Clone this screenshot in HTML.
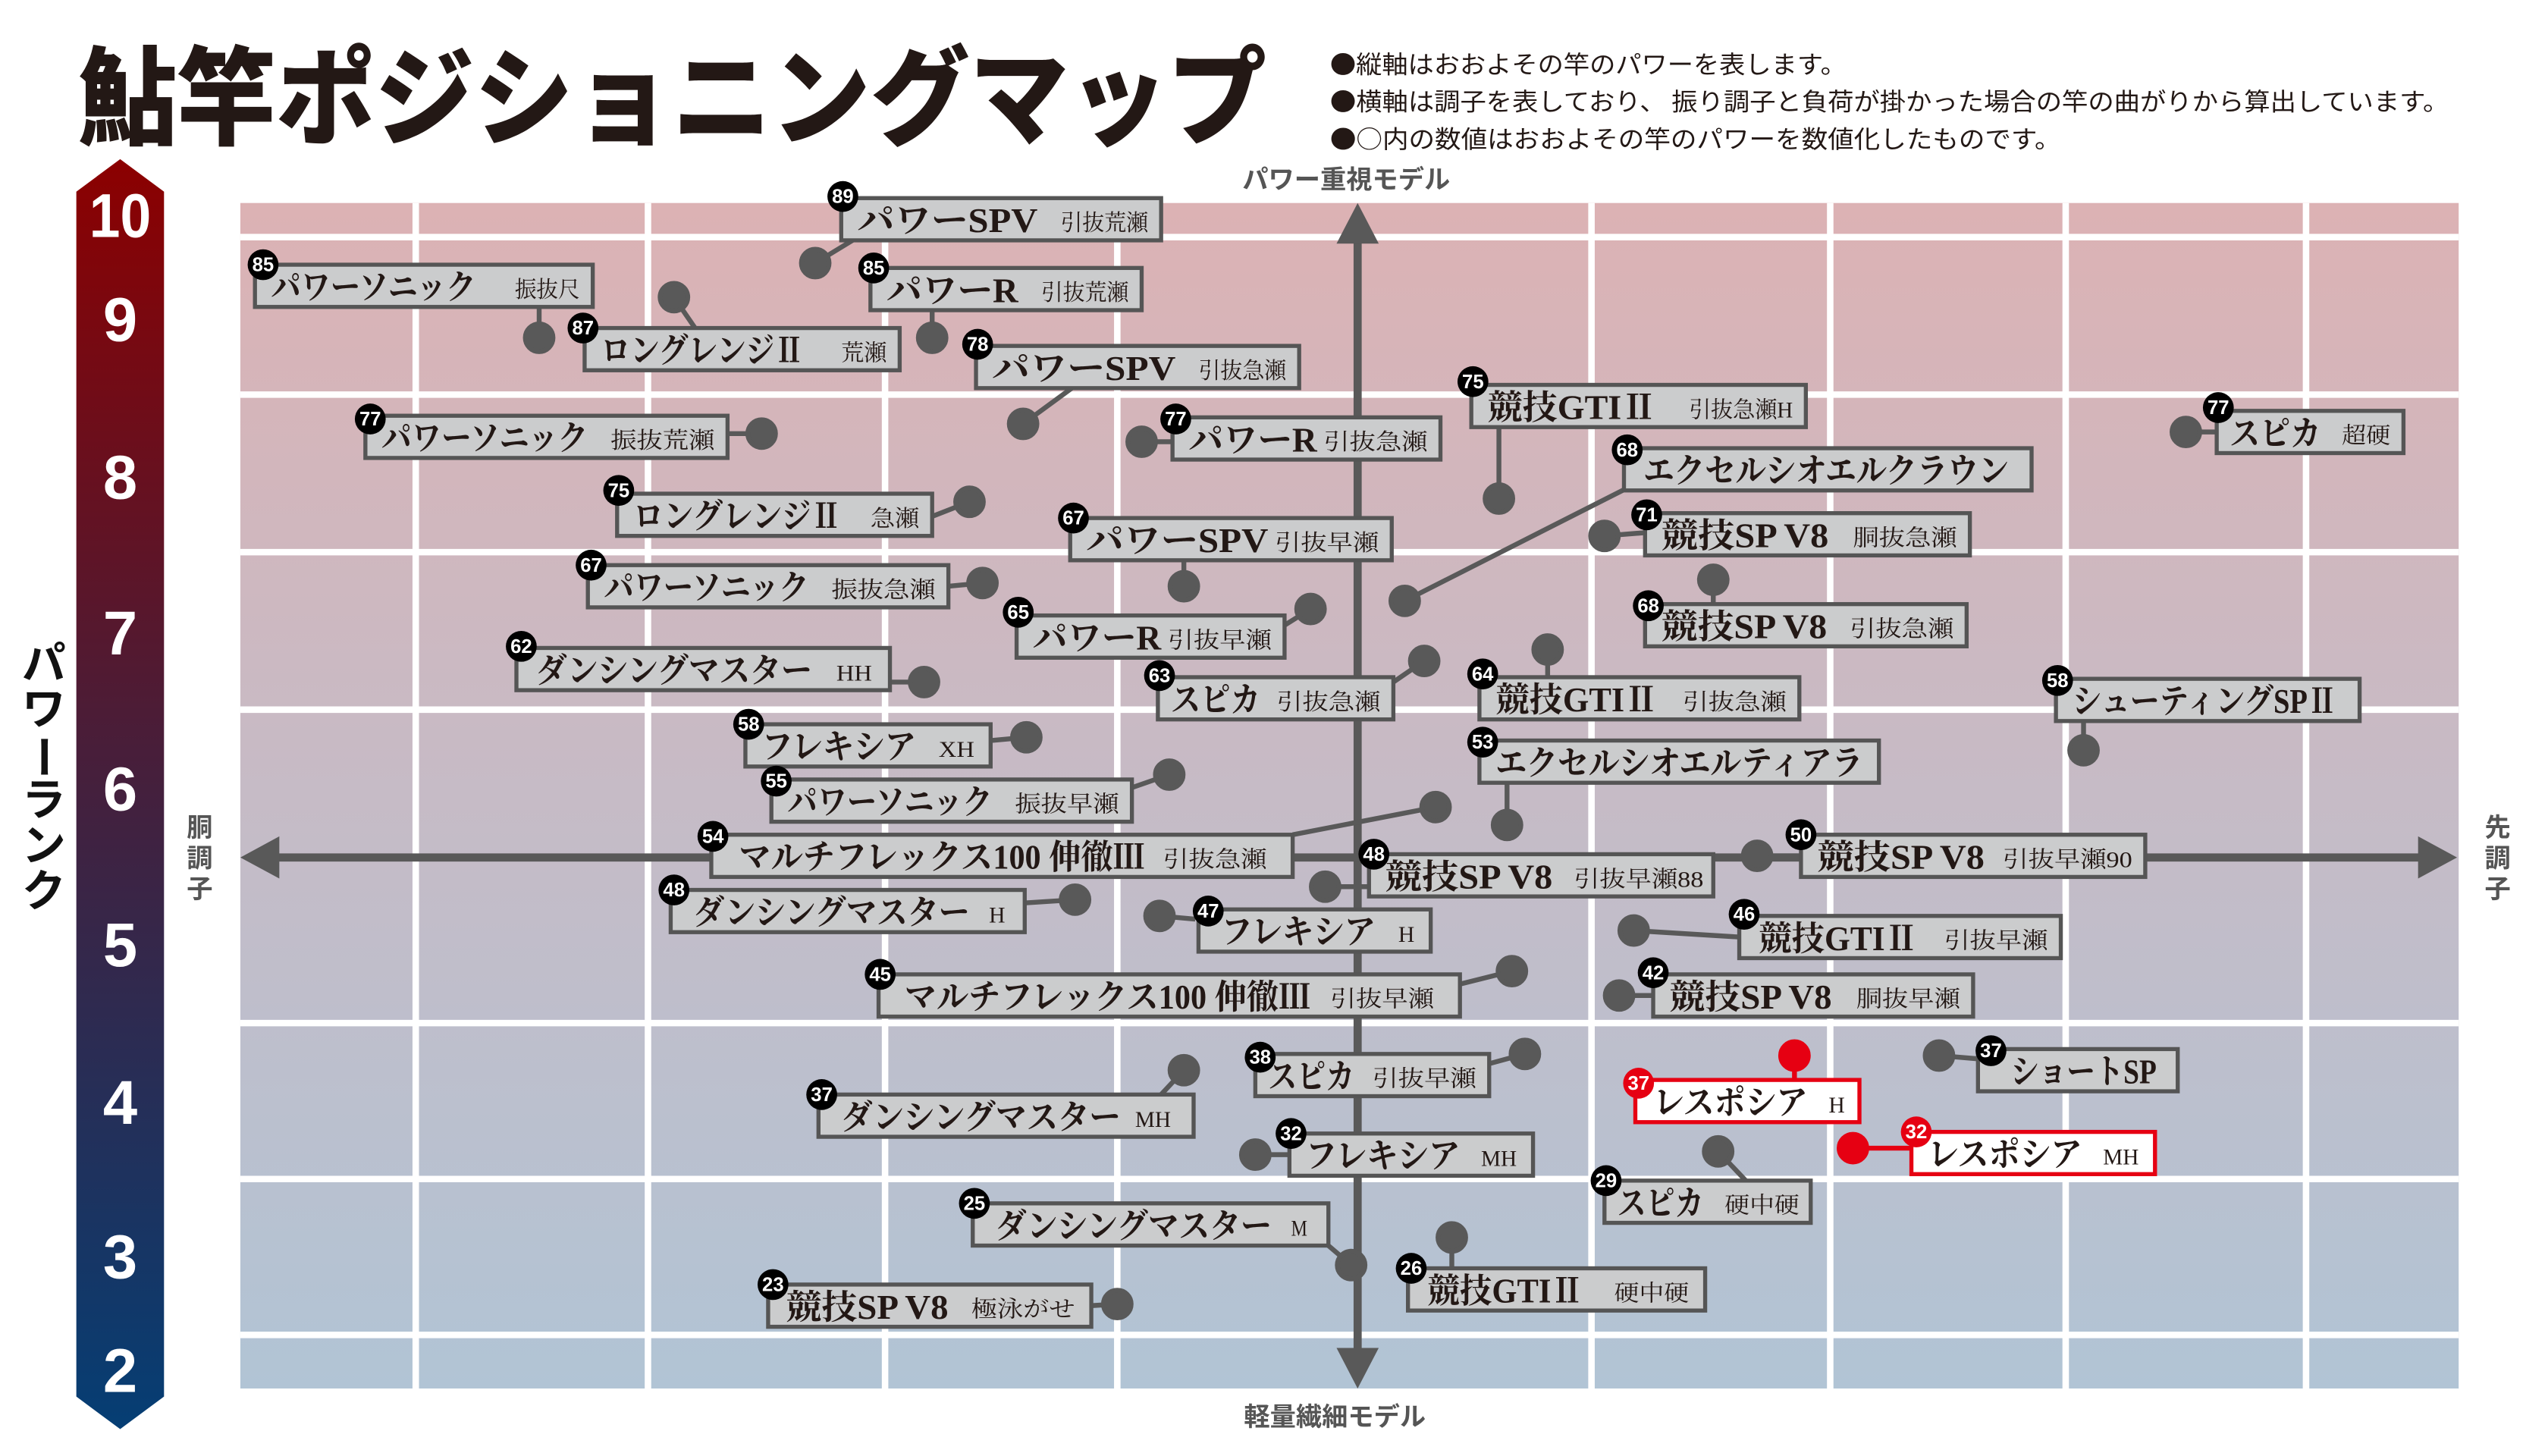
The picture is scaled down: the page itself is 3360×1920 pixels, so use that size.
<!DOCTYPE html>
<html><head><meta charset="utf-8"><style>
html,body{margin:0;padding:0;background:#fff;}
svg{display:block;}
.m{font-family:"Liberation Serif","Noto Serif CJK JP","Noto Serif CJK SC",serif;fill:#231815;font-size:21px;font-weight:bold;}
.s{font-family:"Liberation Serif","Noto Serif CJK JP","Noto Serif CJK SC",serif;fill:#231815;font-size:14px;}
.b{font-family:"Liberation Sans",sans-serif;font-weight:bold;fill:#fff;font-size:12px;}
</style></head><body>
<svg width="3360" height="1920" viewBox="0 0 1569 896.57" xmlns="http://www.w3.org/2000/svg">
<defs>
<linearGradient id="bg" x1="0" y1="0" x2="0" y2="1">
<stop offset="0" stop-color="#dcb2b4"/><stop offset="0.5" stop-color="#c6bbc6"/><stop offset="1" stop-color="#b1c4d5"/>
</linearGradient>
<linearGradient id="bar" x1="0" y1="0" x2="0" y2="1">
<stop offset="0" stop-color="#8c0000"/><stop offset="0.45" stop-color="#4a1d38"/><stop offset="1" stop-color="#053e74"/>
</linearGradient>
</defs>
<rect width="1569" height="896.57" fill="#fff"/>
<text x="48" y="84" textLength="732" lengthAdjust="spacingAndGlyphs" style="font-family:'Noto Sans CJK JP',sans-serif;font-weight:900;font-size:66px;fill:#231815">鮎竿ポジショニングマップ</text>
<g style="font-family:'Noto Sans CJK JP',sans-serif;font-size:15px;fill:#231815">
<text x="819" y="45" textLength="318" lengthAdjust="spacingAndGlyphs">●縦軸はおおよその竿のパワーを表します。</text>
<text x="819" y="68" textLength="689" lengthAdjust="spacingAndGlyphs">●横軸は調子を表しており、 振り調子と負荷が掛かった場合の竿の曲がりから算出しています。</text>
<text x="819" y="91" textLength="450" lengthAdjust="spacingAndGlyphs">●○内の数値はおおよその竿のパワーを数値化したものです。</text>
</g>
<g style="font-family:'Noto Sans CJK JP',sans-serif;font-weight:bold;font-size:16px;fill:#555">
<text x="829" y="116" text-anchor="middle">パワー重視モデル</text>
<text x="822" y="878" text-anchor="middle">軽量繊細モデル</text>
<text x="123" y="515" text-anchor="middle">胴</text><text x="123" y="534" text-anchor="middle">調</text><text x="123" y="553" text-anchor="middle">子</text>
<text x="1538" y="515" text-anchor="middle">先</text><text x="1538" y="534" text-anchor="middle">調</text><text x="1538" y="553" text-anchor="middle">子</text>
</g>
<g style="font-family:'Noto Sans CJK JP',sans-serif;font-weight:bold;font-size:27px;fill:#111" text-anchor="middle">
<text x="27" y="418">パ</text><text x="27" y="446">ワ</text><text x="27" y="476" transform="rotate(90 27 466)">ー</text><text x="27" y="502">ラ</text><text x="27" y="530">ン</text><text x="27" y="558">ク</text>
</g>
<polygon points="47,118 74,98 101,118 101,860 74,880 47,860" fill="url(#bar)"/>
<g style="font-family:'Liberation Sans',sans-serif;font-weight:bold;font-size:38px;fill:#fff" text-anchor="middle">
<text x="74" y="146" textLength="38" lengthAdjust="spacingAndGlyphs">10</text><text x="74" y="210">9</text><text x="74" y="307">8</text><text x="74" y="403">7</text><text x="74" y="499">6</text><text x="74" y="595">5</text><text x="74" y="692">4</text><text x="74" y="787">3</text><text x="74" y="857">2</text>
</g>
<rect x="148" y="125" width="1366" height="730" fill="url(#bg)"/>
<g stroke="#fff" stroke-width="4">
<line x1="256" y1="125" x2="256" y2="855"/><line x1="399" y1="125" x2="399" y2="855"/><line x1="545" y1="125" x2="545" y2="855"/><line x1="688" y1="125" x2="688" y2="855"/><line x1="980" y1="125" x2="980" y2="855"/><line x1="1127" y1="125" x2="1127" y2="855"/><line x1="1272" y1="125" x2="1272" y2="855"/><line x1="1420" y1="125" x2="1420" y2="855"/>
<line x1="148" y1="146" x2="1514" y2="146"/><line x1="148" y1="243" x2="1514" y2="243"/><line x1="148" y1="340" x2="1514" y2="340"/><line x1="148" y1="437" x2="1514" y2="437"/><line x1="148" y1="630" x2="1514" y2="630"/><line x1="148" y1="726" x2="1514" y2="726"/><line x1="148" y1="822" x2="1514" y2="822"/>
</g>
<g fill="#595959" stroke="#595959">
<line x1="836" y1="140" x2="836" y2="840" stroke-width="5"/>
<line x1="165" y1="528" x2="1495" y2="528" stroke-width="5"/>
<polygon points="836,125 823,150 849,150" stroke="none"/>
<polygon points="836,855 823,830 849,830" stroke="none"/>
<polygon points="148,528 172,515 172,541" stroke="none"/>
<polygon points="1513,528 1489,515 1489,541" stroke="none"/>
</g>
<g id="conn" stroke="#595959" stroke-width="3" fill="#595959">
<line x1="502" y1="162" x2="525" y2="148"/><circle cx="502" cy="162" r="8.5"/>
<line x1="332" y1="208" x2="332" y2="189"/><circle cx="332" cy="208" r="8.5"/>
<line x1="574" y1="208" x2="574" y2="191"/><circle cx="574" cy="208" r="8.5"/>
<line x1="415" y1="183" x2="428" y2="202"/><circle cx="415" cy="183" r="8.5"/>
<line x1="630" y1="261" x2="660" y2="239"/><circle cx="630" cy="261" r="8.5"/>
<line x1="923" y1="307" x2="923" y2="263"/><circle cx="923" cy="307" r="8.5"/>
<line x1="469" y1="267" x2="448" y2="267"/><circle cx="469" cy="267" r="8.5"/>
<line x1="703" y1="272" x2="722" y2="272"/><circle cx="703" cy="272" r="8.5"/>
<line x1="1346" y1="266" x2="1365" y2="266"/><circle cx="1346" cy="266" r="8.5"/>
<line x1="865" y1="370" x2="1003" y2="300"/><circle cx="865" cy="370" r="8.5"/>
<line x1="597" y1="309" x2="574" y2="318"/><circle cx="597" cy="309" r="8.5"/>
<line x1="988" y1="330" x2="1013" y2="328"/><circle cx="988" cy="330" r="8.5"/>
<line x1="729" y1="361" x2="729" y2="345"/><circle cx="729" cy="361" r="8.5"/>
<line x1="605" y1="359" x2="584" y2="361"/><circle cx="605" cy="359" r="8.5"/>
<line x1="807" y1="375" x2="791" y2="385"/><circle cx="807" cy="375" r="8.5"/>
<line x1="1055" y1="357" x2="1055" y2="372"/><circle cx="1055" cy="357" r="8.5"/>
<line x1="569" y1="420" x2="548" y2="420"/><circle cx="569" cy="420" r="8.5"/>
<line x1="877" y1="407" x2="858" y2="420"/><circle cx="877" cy="407" r="8.5"/>
<line x1="953" y1="400" x2="953" y2="417"/><circle cx="953" cy="400" r="8.5"/>
<line x1="1283" y1="462" x2="1283" y2="444"/><circle cx="1283" cy="462" r="8.5"/>
<line x1="632" y1="454" x2="610" y2="456"/><circle cx="632" cy="454" r="8.5"/>
<line x1="928" y1="508" x2="928" y2="482"/><circle cx="928" cy="508" r="8.5"/>
<line x1="720" y1="477" x2="697" y2="485"/><circle cx="720" cy="477" r="8.5"/>
<line x1="884" y1="497" x2="796" y2="514"/><circle cx="884" cy="497" r="8.5"/>
<line x1="816" y1="546" x2="843" y2="546"/><circle cx="816" cy="546" r="8.5"/>
<line x1="1082" y1="527" x2="1109" y2="527"/><circle cx="1082" cy="527" r="8.5"/>
<line x1="662" y1="554" x2="631" y2="556"/><circle cx="662" cy="554" r="8.5"/>
<line x1="714" y1="564" x2="736" y2="566"/><circle cx="714" cy="564" r="8.5"/>
<line x1="1006" y1="573" x2="1071" y2="577"/><circle cx="1006" cy="573" r="8.5"/>
<line x1="931" y1="598" x2="899" y2="606"/><circle cx="931" cy="598" r="8.5"/>
<line x1="997" y1="613" x2="1018" y2="613"/><circle cx="997" cy="613" r="8.5"/>
<line x1="939" y1="649" x2="917" y2="655"/><circle cx="939" cy="649" r="8.5"/>
<line x1="1194" y1="650" x2="1218" y2="652"/><circle cx="1194" cy="650" r="8.5"/>
<line x1="729" y1="659" x2="715" y2="674"/><circle cx="729" cy="659" r="8.5"/>
<line x1="773" y1="711" x2="794" y2="711"/><circle cx="773" cy="711" r="8.5"/>
<line x1="1058" y1="709" x2="1075" y2="727"/><circle cx="1058" cy="709" r="8.5"/>
<line x1="832" y1="779" x2="818" y2="767"/><circle cx="832" cy="779" r="8.5"/>
<line x1="894" y1="762" x2="894" y2="781"/><circle cx="894" cy="762" r="8.5"/>
<line x1="688" y1="803" x2="672" y2="804"/><circle cx="688" cy="803" r="8.5"/>
</g>
<g stroke="#e60012" stroke-width="3" fill="#e60012">
<line x1="1105" y1="650" x2="1105" y2="665"/><circle cx="1105" cy="650" r="8.5"/>
<line x1="1141" y1="707" x2="1177" y2="707"/><circle cx="1141" cy="707" r="8.5"/>
</g>
<g id="boxes" fill="#cbcccd" stroke="#555" stroke-width="2.5">
<rect x="518" y="122" width="197" height="26"/><rect x="157" y="163" width="208" height="26"/><rect x="536" y="165" width="167" height="26"/><rect x="360" y="202" width="194" height="26"/><rect x="601" y="213" width="199" height="26"/><rect x="906" y="237" width="206" height="26"/><rect x="225" y="256" width="223" height="26"/><rect x="722" y="257" width="165" height="26"/><rect x="1365" y="253" width="115" height="26"/><rect x="1000" y="276" width="251" height="26"/><rect x="380" y="304" width="194" height="26"/><rect x="1013" y="316" width="200" height="26"/><rect x="659" y="319" width="198" height="26"/><rect x="362" y="348" width="222" height="26"/><rect x="626" y="379" width="165" height="26"/><rect x="1013" y="372" width="198" height="26"/><rect x="318" y="399" width="230" height="26"/><rect x="713" y="417" width="145" height="26"/><rect x="911" y="417" width="197" height="26"/><rect x="1266" y="418" width="187" height="26"/><rect x="459" y="446" width="151" height="26"/><rect x="911" y="456" width="246" height="26"/><rect x="475" y="480" width="222" height="26"/><rect x="438" y="514" width="358" height="26"/><rect x="843" y="526" width="212" height="26"/><rect x="1109" y="514" width="212" height="26"/><rect x="413" y="548" width="218" height="26"/><rect x="738" y="560" width="143" height="26"/><rect x="1071" y="564" width="198" height="26"/><rect x="541" y="600" width="358" height="26"/><rect x="1018" y="600" width="197" height="26"/><rect x="773" y="649" width="144" height="26"/><rect x="1218" y="646" width="123" height="26"/><rect x="504" y="674" width="231" height="26"/><rect x="794" y="698" width="150" height="26"/><rect x="988" y="727" width="127" height="26"/><rect x="599" y="741" width="219" height="26"/><rect x="867" y="781" width="183" height="26"/><rect x="473" y="791" width="199" height="26"/>
</g>
<g fill="#fff" stroke="#e60012" stroke-width="2.5">
<rect x="1007" y="665" width="138" height="26"/><rect x="1177" y="697" width="150" height="26"/>
</g>
<g>
<text class="m" x="528" y="143" textLength="111" lengthAdjust="spacingAndGlyphs">パワーSPV</text><text class="s" x="707" y="142" text-anchor="end" textLength="54" lengthAdjust="spacingAndGlyphs">引抜荒瀬</text>
<text class="m" x="167" y="184" textLength="126" lengthAdjust="spacingAndGlyphs">パワーソニック</text><text class="s" x="357" y="183" text-anchor="end" textLength="40" lengthAdjust="spacingAndGlyphs">振抜尺</text>
<text class="m" x="546" y="186" textLength="81" lengthAdjust="spacingAndGlyphs">パワーR</text><text class="s" x="695" y="185" text-anchor="end" textLength="54" lengthAdjust="spacingAndGlyphs">引抜荒瀬</text>
<text class="m" x="370" y="223" textLength="125" lengthAdjust="spacingAndGlyphs">ロングレンジⅡ</text><text class="s" x="546" y="222" text-anchor="end" textLength="28" lengthAdjust="spacingAndGlyphs">荒瀬</text>
<text class="m" x="611" y="234" textLength="113" lengthAdjust="spacingAndGlyphs">パワーSPV</text><text class="s" x="792" y="233" text-anchor="end" textLength="54" lengthAdjust="spacingAndGlyphs">引抜急瀬</text>
<text class="m" x="916" y="258" textLength="104" lengthAdjust="spacingAndGlyphs">競技GTIⅡ</text><text class="s" x="1104" y="257" text-anchor="end" textLength="64" lengthAdjust="spacingAndGlyphs">引抜急瀬H</text>
<text class="m" x="235" y="277" textLength="127" lengthAdjust="spacingAndGlyphs">パワーソニック</text><text class="s" x="440" y="276" text-anchor="end" textLength="64" lengthAdjust="spacingAndGlyphs">振抜荒瀬</text>
<text class="m" x="732" y="278" textLength="79" lengthAdjust="spacingAndGlyphs">パワーR</text><text class="s" x="879" y="277" text-anchor="end" textLength="64" lengthAdjust="spacingAndGlyphs">引抜急瀬</text>
<text class="m" x="1373" y="274" textLength="56" lengthAdjust="spacingAndGlyphs">スピカ</text><text class="s" x="1472" y="273" text-anchor="end" textLength="30" lengthAdjust="spacingAndGlyphs">超硬</text>
<text class="m" x="1012" y="297" textLength="225" lengthAdjust="spacingAndGlyphs">エクセルシオエルクラウン</text>
<text class="m" x="390" y="325" textLength="128" lengthAdjust="spacingAndGlyphs">ロングレンジⅡ</text><text class="s" x="566" y="324" text-anchor="end" textLength="30" lengthAdjust="spacingAndGlyphs">急瀬</text>
<text class="m" x="1023" y="337" textLength="103" lengthAdjust="spacingAndGlyphs">競技SP V8</text><text class="s" x="1205" y="336" text-anchor="end" textLength="64" lengthAdjust="spacingAndGlyphs">胴抜急瀬</text>
<text class="m" x="669" y="340" textLength="112" lengthAdjust="spacingAndGlyphs">パワーSPV</text><text class="s" x="849" y="339" text-anchor="end" textLength="64" lengthAdjust="spacingAndGlyphs">引抜早瀬</text>
<text class="m" x="372" y="369" textLength="126" lengthAdjust="spacingAndGlyphs">パワーソニック</text><text class="s" x="576" y="368" text-anchor="end" textLength="64" lengthAdjust="spacingAndGlyphs">振抜急瀬</text>
<text class="m" x="636" y="400" textLength="79" lengthAdjust="spacingAndGlyphs">パワーR</text><text class="s" x="783" y="399" text-anchor="end" textLength="64" lengthAdjust="spacingAndGlyphs">引抜早瀬</text>
<text class="m" x="1023" y="393" textLength="102" lengthAdjust="spacingAndGlyphs">競技SP V8</text><text class="s" x="1203" y="392" text-anchor="end" textLength="64" lengthAdjust="spacingAndGlyphs">引抜急瀬</text>
<text class="m" x="330" y="420" textLength="170" lengthAdjust="spacingAndGlyphs">ダンシングマスター</text><text class="s" x="537" y="419" text-anchor="end" textLength="22" lengthAdjust="spacingAndGlyphs">HH</text>
<text class="m" x="721" y="438" textLength="55" lengthAdjust="spacingAndGlyphs">スピカ</text><text class="s" x="850" y="437" text-anchor="end" textLength="64" lengthAdjust="spacingAndGlyphs">引抜急瀬</text>
<text class="m" x="921" y="438" textLength="100" lengthAdjust="spacingAndGlyphs">競技GTIⅡ</text><text class="s" x="1100" y="437" text-anchor="end" textLength="64" lengthAdjust="spacingAndGlyphs">引抜急瀬</text>
<text class="m" x="1276" y="439" textLength="163" lengthAdjust="spacingAndGlyphs">シューティングSPⅡ</text>
<text class="m" x="469" y="467" textLength="95" lengthAdjust="spacingAndGlyphs">フレキシア</text><text class="s" x="600" y="466" text-anchor="end" textLength="22" lengthAdjust="spacingAndGlyphs">XH</text>
<text class="m" x="921" y="477" textLength="226" lengthAdjust="spacingAndGlyphs">エクセルシオエルティアラ</text>
<text class="m" x="485" y="501" textLength="126" lengthAdjust="spacingAndGlyphs">パワーソニック</text><text class="s" x="689" y="500" text-anchor="end" textLength="64" lengthAdjust="spacingAndGlyphs">振抜早瀬</text>
<text class="m" x="455" y="535" textLength="250" lengthAdjust="spacingAndGlyphs">マルチフレックス100 伸徹Ⅲ</text><text class="s" x="780" y="534" text-anchor="end" textLength="64" lengthAdjust="spacingAndGlyphs">引抜急瀬</text>
<text class="m" x="853" y="547" textLength="103" lengthAdjust="spacingAndGlyphs">競技SP V8</text><text class="s" x="1049" y="546" text-anchor="end" textLength="80" lengthAdjust="spacingAndGlyphs">引抜早瀬88</text>
<text class="m" x="1119" y="535" textLength="103" lengthAdjust="spacingAndGlyphs">競技SP V8</text><text class="s" x="1313" y="534" text-anchor="end" textLength="80" lengthAdjust="spacingAndGlyphs">引抜早瀬90</text>
<text class="m" x="427" y="569" textLength="170" lengthAdjust="spacingAndGlyphs">ダンシングマスター</text><text class="s" x="619" y="568" text-anchor="end" textLength="10" lengthAdjust="spacingAndGlyphs">H</text>
<text class="m" x="752" y="581" textLength="95" lengthAdjust="spacingAndGlyphs">フレキシア</text><text class="s" x="871" y="580" text-anchor="end" textLength="10" lengthAdjust="spacingAndGlyphs">H</text>
<text class="m" x="1083" y="585" textLength="98" lengthAdjust="spacingAndGlyphs">競技GTIⅡ</text><text class="s" x="1261" y="584" text-anchor="end" textLength="64" lengthAdjust="spacingAndGlyphs">引抜早瀬</text>
<text class="m" x="557" y="621" textLength="250" lengthAdjust="spacingAndGlyphs">マルチフレックス100 伸徹Ⅲ</text><text class="s" x="883" y="620" text-anchor="end" textLength="64" lengthAdjust="spacingAndGlyphs">引抜早瀬</text>
<text class="m" x="1028" y="621" textLength="100" lengthAdjust="spacingAndGlyphs">競技SP V8</text><text class="s" x="1207" y="620" text-anchor="end" textLength="64" lengthAdjust="spacingAndGlyphs">胴抜早瀬</text>
<text class="m" x="781" y="670" textLength="53" lengthAdjust="spacingAndGlyphs">スピカ</text><text class="s" x="909" y="669" text-anchor="end" textLength="64" lengthAdjust="spacingAndGlyphs">引抜早瀬</text>
<text class="m" x="1238" y="667" textLength="90" lengthAdjust="spacingAndGlyphs">ショートSP</text>
<text class="m" x="518" y="695" textLength="172" lengthAdjust="spacingAndGlyphs">ダンシングマスター</text><text class="s" x="721" y="694" text-anchor="end" textLength="22" lengthAdjust="spacingAndGlyphs">MH</text>
<text class="m" x="1018" y="686" textLength="95" lengthAdjust="spacingAndGlyphs">レスポシア</text><text class="s" x="1136" y="685" text-anchor="end" textLength="10" lengthAdjust="spacingAndGlyphs">H</text>
<text class="m" x="804" y="719" textLength="95" lengthAdjust="spacingAndGlyphs">フレキシア</text><text class="s" x="934" y="718" text-anchor="end" textLength="22" lengthAdjust="spacingAndGlyphs">MH</text>
<text class="m" x="1187" y="718" textLength="95" lengthAdjust="spacingAndGlyphs">レスポシア</text><text class="s" x="1317" y="717" text-anchor="end" textLength="22" lengthAdjust="spacingAndGlyphs">MH</text>
<text class="m" x="996" y="748" textLength="53" lengthAdjust="spacingAndGlyphs">スピカ</text><text class="s" x="1108" y="747" text-anchor="end" textLength="46" lengthAdjust="spacingAndGlyphs">硬中硬</text>
<text class="m" x="613" y="762" textLength="170" lengthAdjust="spacingAndGlyphs">ダンシングマスター</text><text class="s" x="805" y="761" text-anchor="end" textLength="10" lengthAdjust="spacingAndGlyphs">M</text>
<text class="m" x="879" y="802" textLength="96" lengthAdjust="spacingAndGlyphs">競技GTIⅡ</text><text class="s" x="1040" y="801" text-anchor="end" textLength="46" lengthAdjust="spacingAndGlyphs">硬中硬</text>
<text class="m" x="484" y="812" textLength="100" lengthAdjust="spacingAndGlyphs">競技SP V8</text><text class="s" x="662" y="811" text-anchor="end" textLength="64" lengthAdjust="spacingAndGlyphs">極泳がせ</text>
</g>
<g fill="#000">
<circle cx="519" cy="121" r="9.5"/><circle cx="162" cy="163" r="9.5"/><circle cx="538" cy="165" r="9.5"/><circle cx="359" cy="202" r="9.5"/><circle cx="602" cy="212" r="9.5"/><circle cx="907" cy="235" r="9.5"/><circle cx="228" cy="258" r="9.5"/><circle cx="724" cy="258" r="9.5"/><circle cx="1366" cy="251" r="9.5"/><circle cx="1002" cy="277" r="9.5"/><circle cx="381" cy="302" r="9.5"/><circle cx="1014" cy="317" r="9.5"/><circle cx="661" cy="319" r="9.5"/><circle cx="364" cy="348" r="9.5"/><circle cx="627" cy="377" r="9.5"/><circle cx="1015" cy="373" r="9.5"/><circle cx="321" cy="398" r="9.5"/><circle cx="714" cy="416" r="9.5"/><circle cx="913" cy="415" r="9.5"/><circle cx="1267" cy="419" r="9.5"/><circle cx="461" cy="446" r="9.5"/><circle cx="913" cy="457" r="9.5"/><circle cx="478" cy="481" r="9.5"/><circle cx="439" cy="515" r="9.5"/><circle cx="846" cy="526" r="9.5"/><circle cx="1109" cy="514" r="9.5"/><circle cx="415" cy="548" r="9.5"/><circle cx="744" cy="561" r="9.5"/><circle cx="1074" cy="563" r="9.5"/><circle cx="542" cy="600" r="9.5"/><circle cx="1018" cy="599" r="9.5"/><circle cx="776" cy="651" r="9.5"/><circle cx="1226" cy="647" r="9.5"/><circle cx="506" cy="674" r="9.5"/><circle cx="795" cy="698" r="9.5"/><circle cx="989" cy="727" r="9.5"/><circle cx="600" cy="741" r="9.5"/><circle cx="869" cy="781" r="9.5"/><circle cx="476" cy="791" r="9.5"/>
</g>
<g fill="#e60012"><circle cx="1009" cy="667" r="9.5"/><circle cx="1180" cy="697" r="9.5"/></g>
<g text-anchor="middle">
<text class="b" x="519" y="125">89</text><text class="b" x="162" y="167">85</text><text class="b" x="538" y="169">85</text><text class="b" x="359" y="206">87</text><text class="b" x="602" y="216">78</text><text class="b" x="907" y="239">75</text><text class="b" x="228" y="262">77</text><text class="b" x="724" y="262">77</text><text class="b" x="1366" y="255">77</text><text class="b" x="1002" y="281">68</text><text class="b" x="381" y="306">75</text><text class="b" x="1014" y="321">71</text><text class="b" x="661" y="323">67</text><text class="b" x="364" y="352">67</text><text class="b" x="627" y="381">65</text><text class="b" x="1015" y="377">68</text><text class="b" x="321" y="402">62</text><text class="b" x="714" y="420">63</text><text class="b" x="913" y="419">64</text><text class="b" x="1267" y="423">58</text><text class="b" x="461" y="450">58</text><text class="b" x="913" y="461">53</text><text class="b" x="478" y="485">55</text><text class="b" x="439" y="519">54</text><text class="b" x="846" y="530">48</text><text class="b" x="1109" y="518">50</text><text class="b" x="415" y="552">48</text><text class="b" x="744" y="565">47</text><text class="b" x="1074" y="567">46</text><text class="b" x="542" y="604">45</text><text class="b" x="1018" y="603">42</text><text class="b" x="776" y="655">38</text><text class="b" x="1226" y="651">37</text><text class="b" x="506" y="678">37</text><text class="b" x="795" y="702">32</text><text class="b" x="989" y="731">29</text><text class="b" x="600" y="745">25</text><text class="b" x="869" y="785">26</text><text class="b" x="476" y="795">23</text><text class="b" x="1009" y="671">37</text><text class="b" x="1180" y="701">32</text>
</g>
</svg>
</body></html>
